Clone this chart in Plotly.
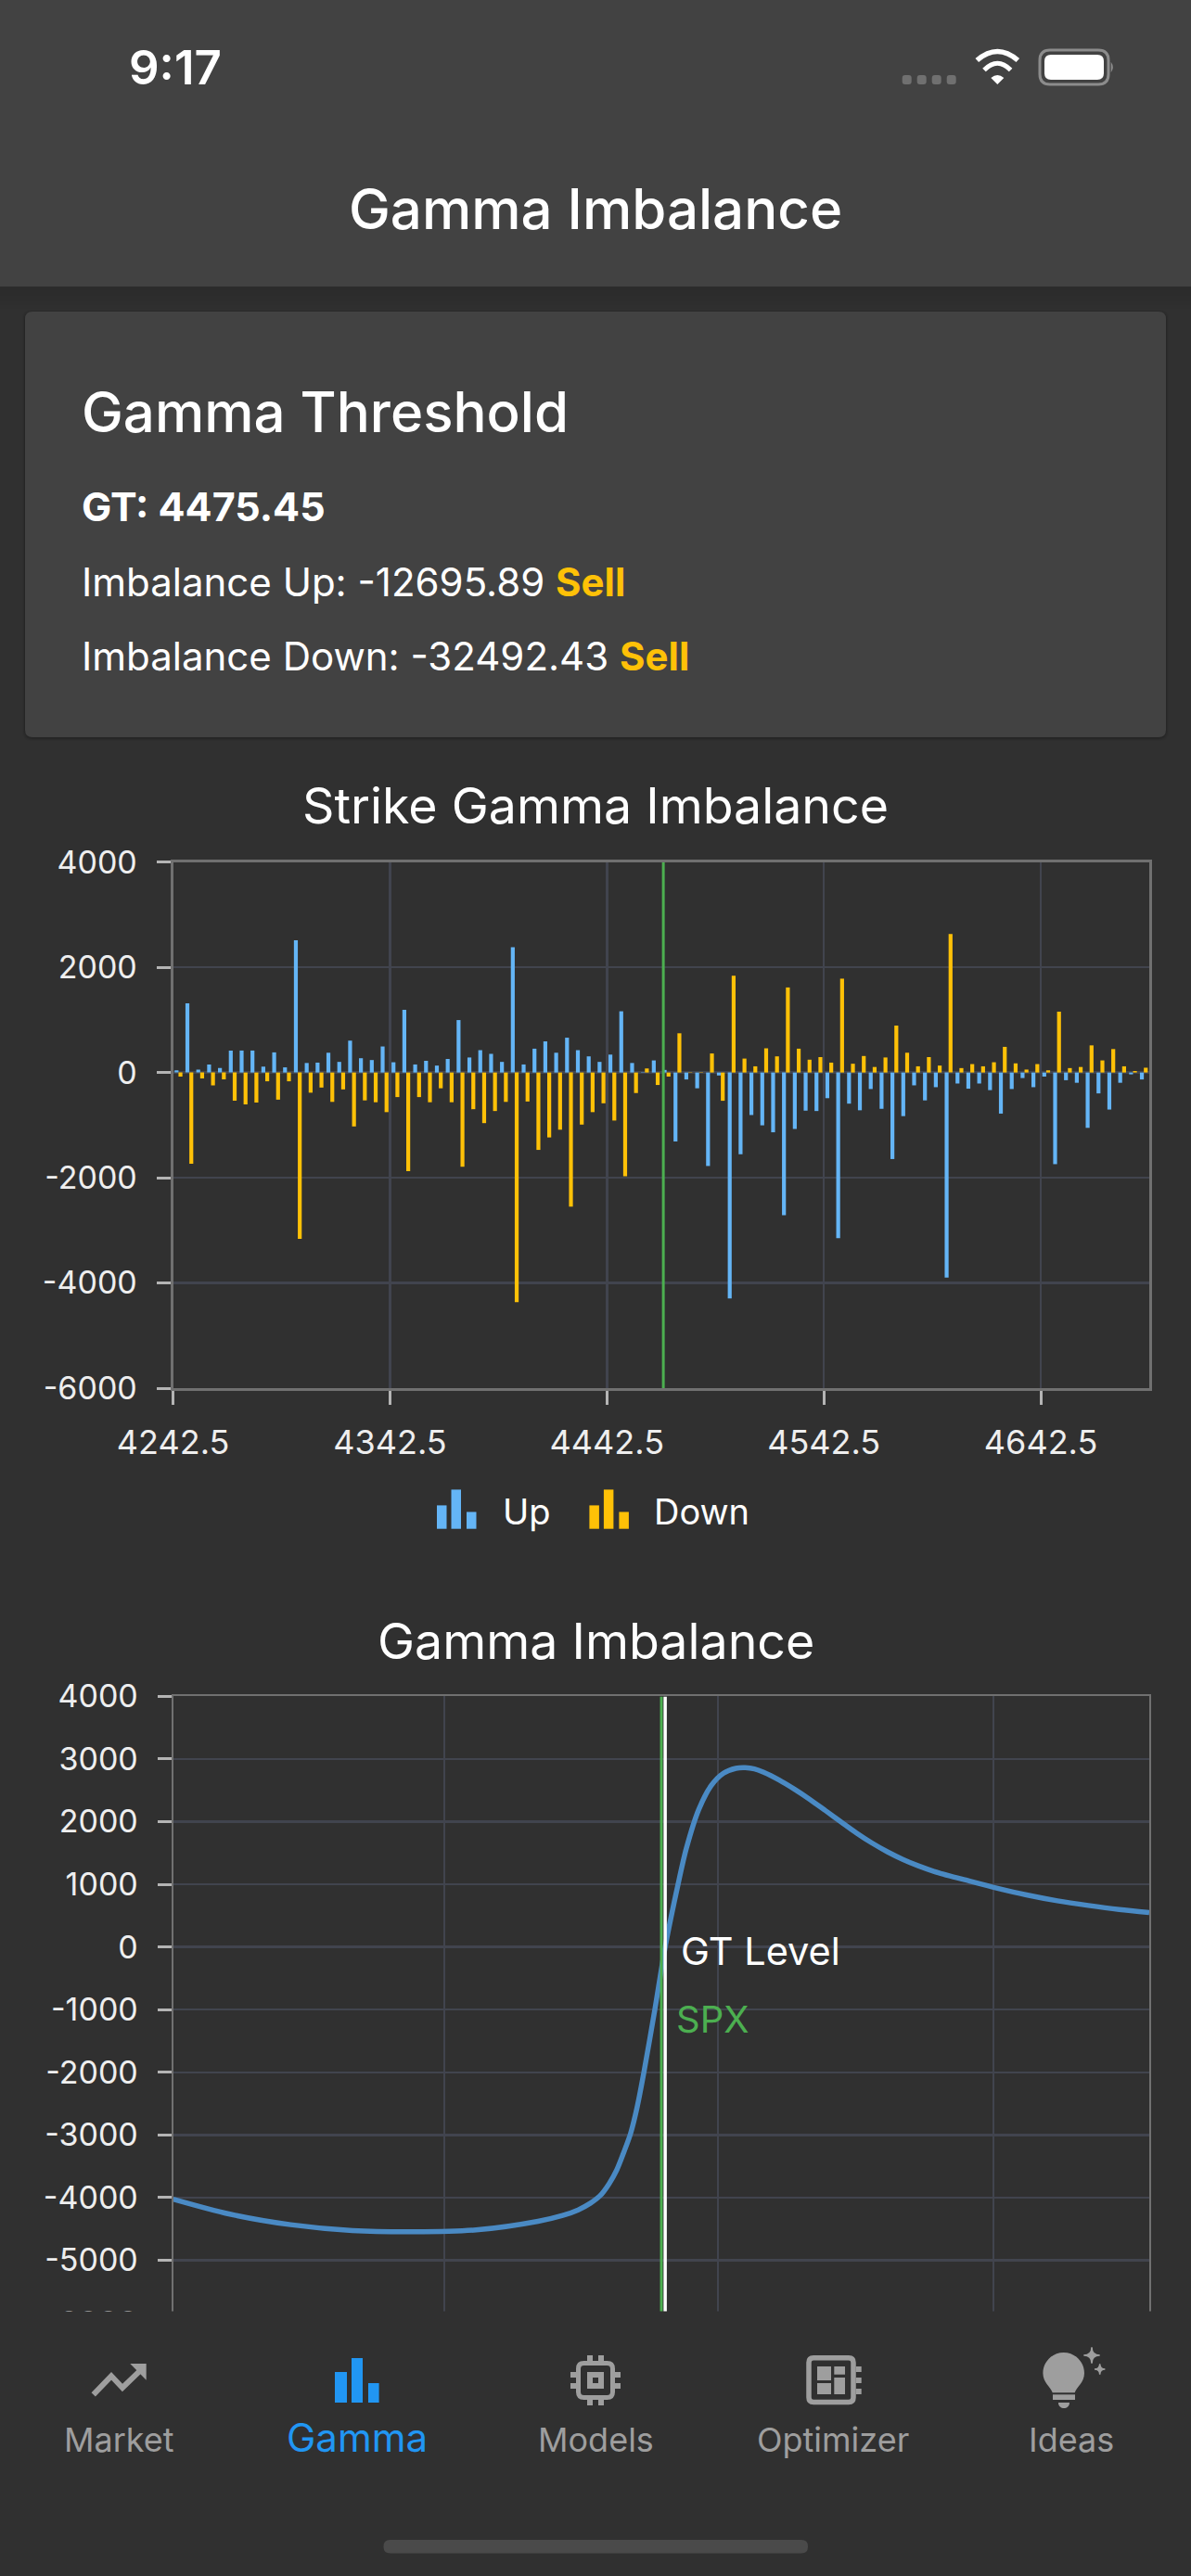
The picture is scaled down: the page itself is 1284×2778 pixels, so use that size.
import plotly.graph_objects as go

W, H = 1284, 2778
FONT = "Inter"

# ---- data ----
strike_start = 4245
strike_step = 5
up_values = [42,1317,56,153,84,418,418,418,112,383,98,2516,181,188,376,202,606,272,237,495,195,1192,153,223,132,258,997,286,425,355,202,2384,153,453,592,376,662,425,307,202,341,1164,181,7,230,49,
 -1310,-132,-300,-1777,-56,-4293,-1554,-808,-1004,-1136,-2711,-1073,-725,-732,-488,-3150,-592,-718,-314,-690,-1645,-829,-244,-530,-279,-3896,-209,-307,-209,-335,-781,-314,-105,-279,-77,-1742,-146,-195,-1052,-397,-704,-195,-35,-132]
down_values = [-77,-1735,-111,-244,-132,-537,-606,-571,-167,-516,-167,-3164,-383,-286,-558,-321,-1025,-530,-565,-753,-467,-1875,-467,-565,-300,-565,-1791,-697,-962,-732,-558,-4363,-551,-1471,-1234,-1087,-2551,-990,-753,-585,-913,-1972,-390,77,-237,-77,
 746,-7,7,362,-537,1840,265,118,460,307,1617,453,244,293,188,1784,167,314,105,286,892,376,118,293,132,2635,84,160,118,195,488,174,56,160,42,1157,84,105,516,230,446,118,28,91]
strikes = [strike_start + strike_step * i for i in range(len(up_values))]
spx_level = 4468.5
gt_level = 4475.45
x1_ticks = [4242.5, 4342.5, 4442.5, 4542.5, 4642.5]
x1_labels = ["4242.5", "4342.5", "4442.5", "4542.5", "4642.5"]
y1_ticks = [4000, 2000, 0, -2000, -4000, -6000]
y1_labels = ["4000", "2000", "0", "-2000", "-4000", "-6000"]
y2_ticks = [4000, 3000, 2000, 1000, 0, -1000, -2000, -3000, -4000, -5000, -6000]
y2_labels = ["4000", "3000", "2000", "1000", "0", "-1000", "-2000", "-3000", "-4000", "-5000", "-6000"]
x2_ticks = [3574.6, 4071, 4572.5, 5076.5]
curve_x = [3574.7,3676.6,3789.8,3903,4016.2,4129.4,4242.6,4287.9,4316.2,4338.8,4355.8,4372.8,4386.9,4400,4412,4424,4436.5,4456.5,4475.45,4499,4514.3,4536.9,4559.6,4582.2,4604.9,4621.8,4638.8,4655.8,4684.1,4712.4,4740.7,4769,4797.3,4825.6,4853.9,4882.2,4910.5,4938.8,4967.1,4995.4,5023.7,5080.3,5136.9,5193.5,5250.1,5306.7,5361.6]
curve_y = [-4025,-4261,-4433,-4527,-4547,-4517,-4379,-4286,-4197,-4089,-3975,-3778,-3557,-3270,-2980,-2560,-2000,-1000,0,1000,1577,2195,2575,2773,2852,2862,2842,2788,2664,2516,2353,2176,1997,1820,1660,1520,1398,1295,1208,1137,1073,945,831,737,663,599,550]

# ---- colours ----
BG = "#303030"; PANEL = "#424242"
BLUE = "#64B5F6"; AMBER = "#FFC107"; GREEN = "#4CAF50"; LINE = "#4A8AC4"
ICON = "#9E9E9E"; ACTIVE = "#2196F3"; GRID = "#41444E"; AXIS = "#707070"; TICK = "#B4B4B4"; LABEL = "#EEEEEE"


def X(v): return v / W
def Y(v): return 1 - v / H


def path(*ops):
    """ops are (cmd, x, y, ...) tuples in page pixels."""
    out = []
    for op in ops:
        cmd, nums = op[0], op[1:]
        pts = []
        for i in range(0, len(nums), 2):
            pts.append(f"{X(nums[i]):.6f},{Y(nums[i+1]):.6f}")
        out.append(cmd + " " + " ".join(pts))
    return " ".join(out)


def rrect_path(x0, y0, x1, y1, r):
    return path(("M", x0 + r, y0), ("L", x1 - r, y0), ("Q", x1, y0, x1, y0 + r), ("L", x1, y1 - r),
                ("Q", x1, y1, x1 - r, y1), ("L", x0 + r, y1), ("Q", x0, y1, x0, y1 - r), ("L", x0, y0 + r),
                ("Q", x0, y0, x0 + r, y0)) + " Z"


shapes = []


def add_path(p, fill=None, stroke=None, sw=0, layer="above"):
    s = dict(type="path", path=p, xref="paper", yref="paper", layer=layer, line=dict(width=sw, color=stroke or "rgba(0,0,0,0)"))
    if fill:
        s["fillcolor"] = fill
    shapes.append(s)


def rect(x0, y0, x1, y1, fill, r=0, stroke=None, sw=0, layer="above"):
    if r:
        add_path(rrect_path(x0, y0, x1, y1, r), fill, stroke, sw, layer)
    else:
        shapes.append(dict(type="rect", xref="paper", yref="paper", x0=X(x0), x1=X(x1), y0=Y(y0), y1=Y(y1),
                           fillcolor=fill, line=dict(width=sw, color=stroke or "rgba(0,0,0,0)"), layer=layer))


# App bar + shadow
rect(0, 0, W, 309, PANEL, layer="below")
for i in range(12):
    rect(0, 309 + i * 2, W, 311 + i * 2, f"rgba(0,0,0,{0.10 * (1 - i / 12):.3f})", layer="below")
# Card
for i, a in enumerate([0.03, 0.05, 0.08]):
    rect(27 - 3 + i, 336 - 2 + i, 1257 + 3 - i, 795 + 4 - i, f"rgba(0,0,0,{a})", r=10, layer="below")
rect(27, 336, 1257, 795, PANEL, r=8, layer="below")

# Status bar
for x in [977.7, 993.7, 1009.7, 1025.7]:
    rect(x - 5, 81, x + 5, 91, "#707070", r=3)
add_path(path(("M", 1053.3, 65), ("Q", 1075.3, 46, 1097.3, 65)), stroke="white", sw=5.5)
add_path(path(("M", 1061, 75.5), ("Q", 1075.3, 61, 1089.6, 75.5)), stroke="white", sw=5)
add_path(path(("M", 1068.3, 84), ("Q", 1075.3, 78, 1082.3, 84), ("L", 1075.3, 91)) + " Z", fill="white")
rect(1121, 54, 1195, 91, "rgba(0,0,0,0)", r=11, stroke="#8C8C8C", sw=3)
rect(1126, 59, 1190, 86, "white", r=7)
add_path(path(("M", 1197.7, 66.7), ("Q", 1202, 72.5, 1197.7, 78.3)) + " Z", fill="#8C8C8C")

# Legend glyphs
for x0, c in [(471, BLUE), (635.4, AMBER)]:
    rect(x0, 1623.4, x0 + 10.5, 1648.7, c)
    rect(x0 + 15.5, 1606.4, x0 + 26, 1648.7, c)
    rect(x0 + 32, 1630.5, x0 + 42.5, 1648.7, c)

# Tab bar
rect(0, 2492.5, W, H, BG)
# Market icon
add_path(path(("M", 100.7, 2582.3), ("L", 120, 2562.3), ("L", 132, 2575), ("L", 151, 2556.7)), stroke=ICON, sw=6)
add_path(path(("M", 140.3, 2549), ("L", 157.7, 2549), ("L", 157.7, 2566.7)) + " Z", fill=ICON)
# Gamma icon
rect(361, 2558, 374, 2591, ACTIVE)
rect(379, 2543, 391, 2591, ACTIVE)
rect(397, 2570, 408.6, 2591, ACTIVE)
# Models icon
rect(623.5, 2548.5, 660.5, 2585.5, "rgba(0,0,0,0)", r=6, stroke=ICON, sw=5)
for x in (633, 645):
    rect(x, 2540, x + 6, 2546, ICON)
    rect(x, 2588, x + 6, 2594, ICON)
for y in (2558, 2570):
    rect(615, y, 621, y + 6, ICON)
    rect(663, y, 669, y + 6, ICON)
rect(633, 2558, 651, 2576, ICON)
rect(639, 2564, 645, 2570, BG)
# Optimizer icon
rect(872, 2542.8, 920, 2590.6, "rgba(0,0,0,0)", r=5, stroke=ICON, sw=5.5)
rect(881, 2552, 896, 2567, ICON)
rect(881, 2570, 896, 2582, ICON)
rect(899.3, 2552, 911, 2560.7, ICON)
rect(899.3, 2564, 911, 2582, ICON)
for y in (2552, 2564, 2576):
    rect(922.7, y, 928.7, y + 6, ICON)
# Ideas icon
cx, cy, r = 1146.7, 2559.3, 22.3
k = 0.5523 * r
add_path(path(("M", cx - r, cy), ("C", cx - r, cy - k, cx - k, cy - r, cx, cy - r), ("C", cx + k, cy - r, cx + r, cy - k, cx + r, cy),
              ("C", cx + r, cy + 10, cx + 14, cy + 15, cx + 12, cy + 21), ("L", cx - 12, cy + 21),
              ("C", cx - 14, cy + 15, cx - r, cy + 10, cx - r, cy)) + " Z", fill=ICON)
rect(1135, 2582.3, 1159, 2588, ICON)
add_path(path(("M", 1141, 2591), ("L", 1153, 2591), ("C", 1153, 2595, 1150, 2597, 1147, 2597), ("C", 1144, 2597, 1141, 2595, 1141, 2591)) + " Z", fill=ICON)
for sx, sy, sr in [(1177, 2540, 8.7), (1185.7, 2555, 5.7)]:
    add_path(path(("M", sx, sy - sr), ("Q", sx, sy, sx + sr, sy), ("Q", sx, sy, sx, sy + sr),
                  ("Q", sx, sy, sx - sr, sy), ("Q", sx, sy, sx, sy - sr)) + " Z", fill=ICON, stroke=ICON, sw=1.5)
# Home indicator
rect(413.5, 2739, 871, 2753.4, "#4A4A4A", r=7)


def note(text, x, y, size, color="white", anchor="left", weight=None):
    f = dict(family=FONT, size=size, color=color)
    if weight:
        f["weight"] = weight
    return dict(text=text, x=X(x), y=Y(y), xref="paper", yref="paper", xanchor=anchor, yanchor="middle",
                showarrow=False, font=f, align="left")


annotations = [
    note("9:17", 137, 72, 51, weight=600),
    note("Gamma Imbalance", 642, 225, 60, anchor="center", weight=500),
    note("Gamma Threshold", 86, 443.5, 60, weight=500),
    note("<b>GT: 4475.45</b>", 86, 546, 43),
    note(f'Imbalance Up: -12695.89 <b><span style="color:{AMBER}">Sell</span></b>', 86, 627.5, 42),
    note(f'Imbalance Down: -32492.43 <b><span style="color:{AMBER}">Sell</span></b>', 86, 708, 42),
    note("Strike Gamma Imbalance", 642, 868, 53.7, anchor="center"),
    note("Up", 540, 1630, 38),
    note("Down", 703, 1630, 38),
    note("Gamma Imbalance", 642, 1769, 53.7, anchor="center"),
    note("GT Level", 732, 2104, 41.5),
    note("SPX", 727, 2177, 40, color=GREEN),
    note("Market", 128, 2631, 36, color=ICON, anchor="center"),
    note("Gamma", 385, 2628, 42, color=ACTIVE, anchor="center"),
    note("Models", 642, 2631, 36, color=ICON, anchor="center"),
    note("Optimizer", 898, 2631, 36, color=ICON, anchor="center"),
    note("Ideas", 1155, 2631, 36, color=ICON, anchor="center"),
]

fig = go.Figure()
fig.add_bar(x=strikes, y=up_values, name="Up", marker=dict(color=BLUE, line=dict(width=0)), xaxis="x", yaxis="y")
fig.add_bar(x=strikes, y=down_values, name="Down", marker=dict(color=AMBER, line=dict(width=0)), xaxis="x", yaxis="y")
fig.add_scatter(x=[spx_level, spx_level], y=[-6000, 4000], mode="lines", name="SPX", line=dict(color=GREEN, width=3), xaxis="x", yaxis="y")
fig.add_scatter(x=curve_x, y=curve_y, mode="lines", name="Gamma Imbalance", line=dict(color=LINE, width=5.5, shape="spline", smoothing=0.8), xaxis="x2", yaxis="y2")
fig.add_scatter(x=[gt_level, gt_level], y=[-6000, 4000], mode="lines", name="GT Level", line=dict(color="white", width=3.5), xaxis="x2", yaxis="y2")
fig.add_scatter(x=[spx_level, spx_level], y=[-6000, 4000], mode="lines", name="SPX", line=dict(color=GREEN, width=3), xaxis="x2", yaxis="y2")

common_axis = dict(showline=True, mirror=True, zeroline=False, ticks="outside", ticklen=15, tickwidth=3, tickcolor=TICK,
                   tickmode="array", fixedrange=True)
yfont = dict(family=FONT, size=34, color=LABEL)
xfont = dict(family=FONT, size=36, color=LABEL)

fig.update_layout(
    width=W, height=H, autosize=False,
    margin=dict(l=0, r=0, t=0, b=0, pad=0, autoexpand=False),
    paper_bgcolor=BG, plot_bgcolor=BG,
    barmode="group", bargap=0.28, bargroupgap=0, showlegend=False,
    font=dict(family=FONT, color="white"),
    xaxis=dict(domain=[X(186.6), X(1239)], anchor="y", range=[4242.5, 4692.5], tickvals=x1_ticks, ticktext=x1_labels, tickfont=xfont,
               linecolor=AXIS, linewidth=3, gridcolor=GRID, gridwidth=2.5, ticklabelstandoff=10, **common_axis),
    yaxis=dict(domain=[Y(1497), Y(929.7)], anchor="x", range=[-6000, 4000], tickvals=y1_ticks, ticktext=y1_labels, tickfont=yfont,
               linecolor=AXIS, linewidth=3, gridcolor=GRID, gridwidth=2.5, ticklabelstandoff=14, **common_axis),
    xaxis2=dict(domain=[X(186.6), X(1239)], anchor="y2", range=[3574.6, 5361.6], tickvals=x2_ticks, ticktext=[""] * len(x2_ticks), tickfont=xfont,
                linecolor=AXIS, linewidth=2, gridcolor=GRID, gridwidth=2, **common_axis),
    yaxis2=dict(domain=[Y(2505), Y(1829.4)], anchor="x2", range=[-6000, 4000], tickvals=y2_ticks, ticktext=y2_labels, tickfont=yfont,
                linecolor=AXIS, linewidth=2, gridcolor=GRID, gridwidth=2.5, ticklabelstandoff=14, **common_axis),
    shapes=shapes, annotations=annotations,
)

fig.write_html("out.html", config=dict(displayModeBar=False, staticPlot=True),
               post_script="document.body.style.margin='0';document.documentElement.style.background='#303030';")
